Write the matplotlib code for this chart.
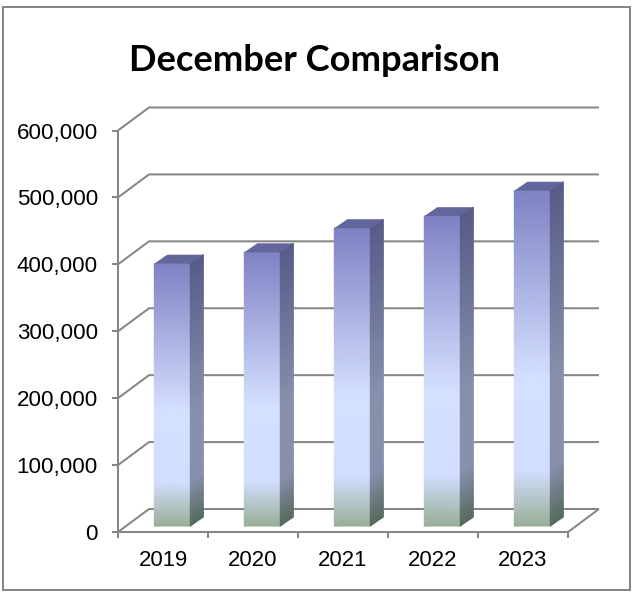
import numpy as np
import matplotlib
matplotlib.use("Agg")
import matplotlib.pyplot as plt
from matplotlib.colors import LinearSegmentedColormap
from matplotlib.patches import Rectangle, Polygon

years = ["2019", "2020", "2021", "2022", "2023"]
values = [392000, 409000, 445000, 463000, 501000]
ticks = [0, 100000, 200000, 300000, 400000, 500000, 600000]
title = "December Comparison"

W, H = 633, 593
fig = plt.figure(figsize=(W / 100, H / 100), dpi=100, facecolor="white")
L, R, B, T = 118, 568, 532, 130.5
ax = fig.add_axes([L / W, 1 - B / H, (R - L) / W, (B - T) / H])
ax.set_xlim(0, 5)
ax.set_ylim(0, 600000)
ax.axis("off")

px = 5 / (R - L)
py = 600000 / (B - T)
GRID = "#868686"
lw = 1.45


def line(xs, ys, z=1, **kw):
    ax.plot(xs, ys, color=GRID, lw=lw, zorder=z, clip_on=False,
            solid_capstyle="butt", solid_joinstyle="miter", **kw)


back_x, back_y = 31 * px, 23 * py
# gridlines on side and back wall
for t in ticks:
    line([0, back_x, 5 + back_x], [t, t + back_y, t + back_y])
    line([-6 * px, 0], [t, t], z=2)
# floor
line([5, 5 + back_x], [0, back_y])
# axes
line([0, 0], [0, 600000], z=2)
line([0, 5], [0, 0], z=2)
for i in range(6):
    line([i, i], [0, -6 * py], z=2)

front = LinearSegmentedColormap.from_list("front", [
    (0, "#9aaf98"), (0.165, "#d2deff"), (0.44, "#d4e0ff"), (1, "#7f82c4")])
side = LinearSegmentedColormap.from_list("side", [
    (0, "#566a5c"), (0.165, "#878fab"), (0.44, "#878fab"), (1, "#585b88")])
TOP = "#62669a"

ft = np.linspace(0, 1, 120)
bw = 36 * px
dx, dy = 13 * px, 9 * py
base = 6 * py
for i, v in enumerate(values):
    x0 = i + 36.3 * px
    x1 = x0 + bw
    Y = base + ft * v
    XX, YY = np.meshgrid([x0, x1], Y)
    CC = np.tile(ft[:, None], (1, 2))
    ax.pcolormesh(XX, YY, CC, cmap=front, vmin=0, vmax=1, shading="gouraud", zorder=4, clip_on=False)
    XS = np.tile([x1, x1 + dx], (len(ft), 1))
    YS = np.column_stack([Y, Y + dy])
    ax.pcolormesh(XS, YS, CC, cmap=side, vmin=0, vmax=1, shading="gouraud", zorder=4, clip_on=False)
    top = base + v
    ax.add_patch(Polygon([(x0, top), (x1, top), (x1 + dx, top + dy), (x0 + dx, top + dy)],
                         closed=True, facecolor=TOP, edgecolor="none", zorder=4, clip_on=False))

for t in ticks:
    ax.text(-20 * px, t, f"{t:,}", ha="right", va="center_baseline", fontsize=16.1,
            family="Liberation Sans", color="black", clip_on=False)
for i, y in enumerate(years):
    ax.text(i + 0.5, -25.5 * py, y, ha="center", va="center_baseline", fontsize=15.9,
            family="Liberation Sans", color="black", clip_on=False)

fig.text(314.5 / W, 1 - 60.5 / H, title, ha="center", va="center", fontsize=26.1,
         family="Lato", weight="bold", color="black")
fig.add_artist(Rectangle((2.5 / W, 1 - 590 / H), 627.5 / W, 583 / H, transform=fig.transFigure,
                         fill=False, edgecolor=GRID, lw=1.45))
fig.savefig("out.png", dpi=100)
